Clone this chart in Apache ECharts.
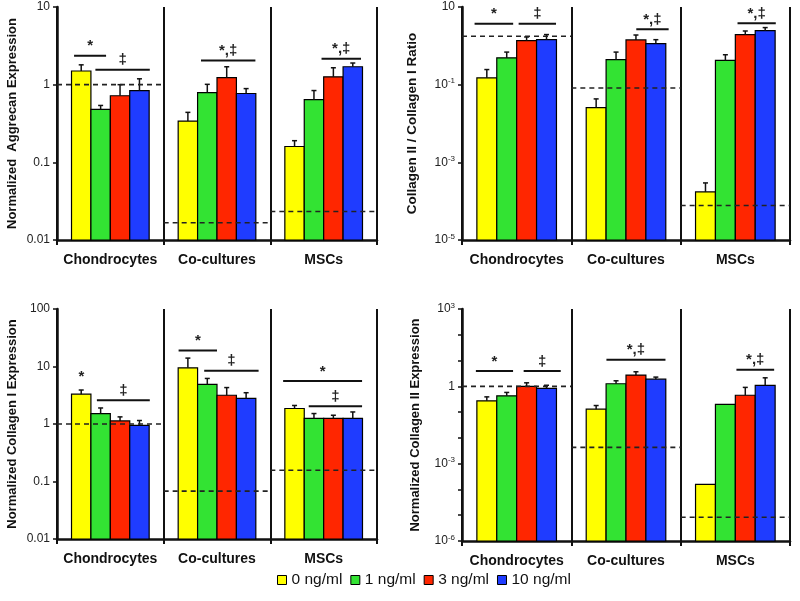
<!DOCTYPE html>
<html><head><meta charset="utf-8">
<script src="https://cdn.jsdelivr.net/npm/echarts@6/dist/echarts.min.js"></script>
<style>html,body{margin:0;padding:0;background:#fff}#c{width:800px;height:601px}</style>
</head><body><div id="c"></div>
<script>
const categories = ['Chondrocytes', 'Co-cultures', 'MSCs'];
const doses = ['0 ng/ml', '1 ng/ml', '3 ng/ml', '10 ng/ml'];
const doseColors = ['#ffff00', '#33e333', '#ff2600', '#1f3cff'];

// rows = dose (0,1,3,10 ng/ml), columns = category
const aggrecanMean  = [[1.5, 0.34, 0.16], [0.48, 0.79, 0.64], [0.72, 1.23, 1.26], [0.84, 0.77, 1.7]];
const aggrecanUpper = [[1.8, 0.44, 0.19], [0.54, 1.01, 0.84], [1.0, 1.7, 1.65], [1.19, 0.89, 1.9]];
const aggrecanRef = [1, 0.0167, 0.0233];
const aggrecanTicks = ['0.01', '0.1', '1', '10'];
const aggrecanSig = [[0, 0.16, 0.46, 2.36, '*'], [0, 0.36, 0.87, 1.56, '‡'], [1, 0.35, 0.86, 2.04, '*,‡'], [2, 0.48, 0.85, 2.16, '*,‡']];

const ratioMean  = [[0.15, 0.0257, 1.73e-4], [0.49, 0.44, 0.42], [1.36, 1.42, 1.94], [1.44, 1.14, 2.45]];
const ratioUpper = [[0.245, 0.043, 2.95e-4], [0.69, 0.69, 0.59], [1.69, 1.9, 2.41], [1.95, 1.44, 2.95]];
const ratioRef = [1.76, 0.082, 7.7e-5];
const ratioTicks = ['10^-5', '10^-3', '10^-1', '10'];
const ratioSig = [[0, 0.115, 0.468, 3.7, '*'], [0, 0.518, 0.86, 3.7, '‡'], [1, 0.594, 0.89, 2.67, '*,‡'], [2, 0.52, 0.87, 3.8, '*,‡']];

const col1Mean  = [[3.3, 9.5, 1.86], [1.52, 4.9, 1.25], [1.13, 3.16, 1.25], [0.95, 2.78, 1.25]];
const col1Upper = [[3.9, 14, 2.1], [1.9, 6.2, 1.52], [1.33, 4.3, 1.42], [1.15, 3.5, 1.62]];
const col1Ref = [1, 0.068, 0.157];
const col1Ticks = ['0.01', '0.1', '1', '10', '100'];
const col1Sig = [[0, 0.23, 0.23, 4.5, '*'], [0, 0.374, 0.87, 2.6, '‡'], [1, 0.14, 0.50, 19, '*'], [1, 0.38, 0.89, 8.4, '‡'], [2, 0.12, 0.86, 5.6, '*'], [2, 0.36, 0.86, 2.04, '‡']];

const col2Mean  = [[0.275, 0.13, 1.58e-4], [0.43, 1.26, 0.2], [1.0, 2.73, 0.45], [0.83, 1.9, 1.09]];
const col2Upper = [[0.39, 0.18, 1.58e-4], [0.58, 1.64, 0.2], [1.37, 3.67, 0.91], [1.1, 2.28, 2.14]];
const col2Ref = [1, 0.0043, 8.3e-6];
const col2Ticks = ['10^-6', '10^-3', '1', '10^3'];
const col2Sig = [[0, 0.127, 0.467, 3.9, '*'], [0, 0.564, 0.903, 3.9, '‡'], [1, 0.321, 0.861, 10.7, '*,‡'], [2, 0.51, 0.855, 4.4, '*,‡']];

const FONT = 'Liberation Sans, Arial, sans-serif';
const GROUP_FRAC = 0.728;

const panels = [
  {grid: {left: 57, top: 7, width: 320, height: 233}, min: 0.01, max: 10, interval: 1, ticks: aggrecanTicks,
   name: 'Normalized  Aggrecan Expression', nameGap: 38, mean: aggrecanMean, upper: aggrecanUpper, ref: aggrecanRef, sig: aggrecanSig},
  {grid: {left: 462, top: 7, width: 328, height: 233}, min: 1e-5, max: 10, interval: 2, ticks: ratioTicks,
   name: 'Collagen II / Collagen I Ratio', nameGap: 43, nameSize: 13.5, mean: ratioMean, upper: ratioUpper, ref: ratioRef, sig: ratioSig},
  {grid: {left: 57, top: 309, width: 320, height: 230}, min: 0.01, max: 100, interval: 1, ticks: col1Ticks,
   name: 'Normalized Collagen I Expression', nameGap: 38, mean: col1Mean, upper: col1Upper, ref: col1Ref, sig: col1Sig},
  {grid: {left: 462, top: 309, width: 328, height: 232}, min: 1e-6, max: 1000, interval: 1, ticks: col2Ticks,
   name: 'Normalized Collagen II Expression', nameGap: 40, mean: col2Mean, upper: col2Upper, ref: col2Ref, sig: col2Sig}
];

function labelMap(ticks) {
  const m = {};
  ticks.forEach(t => {
    let e;
    if (t.indexOf('^') >= 0) e = parseInt(t.split('^')[1], 10);
    else e = Math.round(Math.log10(parseFloat(t)));
    m[e] = t;
  });
  return m;
}

const grids = [], xAxes = [], yAxes = [], series = [];

panels.forEach((p, pi) => {
  grids.push(Object.assign({containLabel: false}, p.grid));
  xAxes.push({
    type: 'category', gridIndex: pi, data: categories,
    axisLine: {lineStyle: {color: '#111', width: 2.5}},
    axisTick: {show: true, interval: 0, length: 5, lineStyle: {color: '#111', width: 2}},
    axisLabel: {interval: 0, fontFamily: FONT, fontWeight: 'bold', fontSize: 14, color: '#111', margin: 13},
    splitLine: {show: true, interval: 0, lineStyle: {color: '#111', width: 2}}
  });
  const lm = labelMap(p.ticks);
  yAxes.push({
    type: 'log', logBase: 10, gridIndex: pi, min: p.min, max: p.max, interval: p.interval,
    name: p.name, nameLocation: 'middle', nameGap: p.nameGap, nameRotate: 90,
    nameTextStyle: {fontFamily: FONT, fontWeight: 'bold', fontSize: p.nameSize || 13, color: '#111'},
    axisLine: {show: true, lineStyle: {color: '#111', width: 2.5}},
    axisTick: {show: true, length: 4, lineStyle: {color: '#111', width: 1.5}},
    splitLine: {show: false},
    axisLabel: {
      fontFamily: FONT, fontSize: 12, color: '#222', margin: 7,
      formatter: function (v) {
        const e = Math.round(Math.log10(v));
        const t = lm[e];
        if (t === undefined) return '';
        if (t.indexOf('^') >= 0) return '10{s|' + t.split('^')[1] + '}';
        return t;
      },
      rich: {s: {fontFamily: FONT, fontSize: 8, color: '#222', verticalAlign: 'top', padding: [0, 0, 7, 0]}}
    }
  });

  doses.forEach((dn, d) => {
    series.push({
      type: 'custom', name: dn, xAxisIndex: pi, yAxisIndex: pi,
      itemStyle: {color: doseColors[d], borderColor: '#000', borderWidth: 1},
      encode: {x: 0, y: 1},
      data: categories.map((c, i) => [i, p.mean[d][i], p.upper[d][i]]),
      z: 2,
      renderItem: function (params, api) {
        const ci = api.value(0), v = api.value(1), up = api.value(2);
        const band = api.size([1, 1], [ci, v])[0];
        const gw = band * GROUP_FRAC, bw = gw / 4;
        const c = api.coord([ci, v]);
        const x0 = c[0] - gw / 2 + d * bw;
        const yb = params.coordSys.y + params.coordSys.height;
        const xc = x0 + bw / 2;
        const children = [{
          type: 'rect', shape: {x: x0, y: c[1], width: bw, height: yb - c[1]},
          style: {fill: doseColors[d], stroke: '#000', lineWidth: 1.2}
        }];
        if (up > v) {
          const pu = api.coord([ci, up])[1];
          children.push({type: 'line', shape: {x1: xc, y1: c[1], x2: xc, y2: pu}, style: {stroke: '#111', lineWidth: 1.5}});
          children.push({type: 'line', shape: {x1: xc - 2.5, y1: pu, x2: xc + 2.5, y2: pu}, style: {stroke: '#111', lineWidth: 1.5}});
        }
        return {type: 'group', children: children};
      }
    });
  });

  series.push({
    type: 'custom', xAxisIndex: pi, yAxisIndex: pi, z: 4, silent: true,
    encode: {x: 0, y: 1},
    data: p.ref.map((r, i) => [i, r]),
    renderItem: function (params, api) {
      const ci = api.value(0), r = api.value(1);
      const band = api.size([1, 1], [ci, r])[0];
      const c = api.coord([ci, r]);
      return {type: 'line', shape: {x1: c[0] - band / 2, y1: c[1], x2: c[0] + band / 2, y2: c[1]},
              style: {stroke: '#222', lineWidth: 1.6, lineDash: [5, 4]}};
    }
  });

  series.push({
    type: 'custom', xAxisIndex: pi, yAxisIndex: pi, z: 5, silent: true,
    encode: {x: 0, y: 3},
    data: p.sig.map(s => [s[0], s[1], s[2], s[3]]),
    renderItem: function (params, api) {
      const ci = api.value(0), f0 = api.value(1), f1 = api.value(2), yv = api.value(3);
      const band = api.size([1, 1], [ci, yv])[0];
      const c = api.coord([ci, yv]);
      const left = c[0] - band / 2;
      const x1 = left + f0 * band, x2 = left + f1 * band;
      const children = [];
      if (f1 > f0) children.push({type: 'line', shape: {x1: x1, y1: c[1], x2: x2, y2: c[1]}, style: {stroke: '#111', lineWidth: 2}});
      children.push({type: 'text', x: (x1 + x2) / 2, y: c[1] - 2,
        style: {text: p.sig[params.dataIndex][4], fill: '#222', font: 'bold 15px ' + FONT, align: 'center', verticalAlign: 'bottom'}});
      return {type: 'group', children: children};
    }
  });
});

const chart = echarts.init(document.getElementById('c'), null, {renderer: 'canvas'});
chart.setOption({
  animation: false,
  backgroundColor: '#fff',
  legend: {
    data: doses, left: 277, top: 572, padding: 0, icon: 'rect', itemWidth: 9, itemHeight: 9, itemGap: 8,
    itemStyle: {borderColor: '#000', borderWidth: 1},
    textStyle: {fontFamily: FONT, fontSize: 15.5, color: '#111'}
  },
  grid: grids, xAxis: xAxes, yAxis: yAxes, series: series
});
</script></body></html>
